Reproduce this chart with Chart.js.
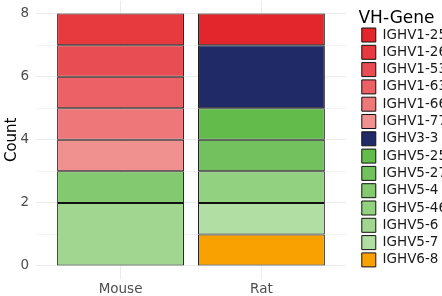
<!DOCTYPE html>
<html>
<head>
<meta charset="utf-8">
<script src="https://cdn.jsdelivr.net/npm/chart.js@4.4.1/dist/chart.umd.min.js"></script>
<style>
  html, body { margin: 0; padding: 0; background: #fff; overflow: hidden; }
  #wrap { width: 442px; height: 296px; overflow: hidden; }
</style>
</head>
<body>
<div id="wrap"><canvas id="chart" width="457" height="296"></canvas></div>
<script>
// categories on the x axis
const species = ['Mouse', 'Rat'];

// legend order (top of stack first, like ggplot)
const genes = ['IGHV1-25', 'IGHV1-26', 'IGHV1-53', 'IGHV1-63', 'IGHV1-66', 'IGHV1-77',
    'IGHV3-3', 'IGHV5-25', 'IGHV5-27', 'IGHV5-4', 'IGHV5-46', 'IGHV5-6', 'IGHV5-7', 'IGHV6-8'];
const geneColors = ['#e3262b', '#e63a3e', '#e84d53', '#eb6165', '#ee777a', '#f1918f',
    '#1f2a66', '#62bb4a', '#73c05e', '#82c96f', '#92d17f', '#a1d690', '#b1dea3', '#f8a100'];

const mouseCounts = [0, 1, 1, 1, 1, 1, 0, 0, 0, 1, 0, 2, 0, 0];
const ratCounts   = [1, 0, 0, 0, 0, 0, 2, 1, 1, 0, 1, 0, 1, 1];

const yTicks = [0, 1, 2, 3, 4, 5, 6, 7, 8];

Chart.defaults.font.family = "'DejaVu Sans', sans-serif";
Chart.defaults.font.size = 13.5;

// chart.js stacks first dataset at the bottom, so build them bottom-up
const datasets = [];
for (let i = genes.length - 1; i >= 0; i--) {
    datasets.push({
        label: genes[i],
        backgroundColor: geneColors[i],
        borderColor: '#111',
        borderWidth: 1,
        borderSkipped: false,
        inflateAmount: 0,
        grouped: false,
        barPercentage: 0.9,
        categoryPercentage: 1,
        data: [
            {x: 1, y: mouseCounts[i] || null},
            {x: 2, y: ratCounts[i] || null},
        ],
    });
}

new Chart(document.getElementById('chart').getContext('2d'), {
    type: 'bar',
    data: { datasets: datasets },
    options: {
        responsive: false,
        devicePixelRatio: 1,
        animation: false,
        layout: { padding: { top: 1, bottom: 0, left: 0, right: 0 } },
        plugins: {
            tooltip: { enabled: false },
            legend: {
                position: 'right',
                align: 'start',
                reverse: true,
                title: {
                    display: true,
                    text: 'VH-Gene',
                    position: 'start',
                    color: '#000',
                    font: { size: 17, lineHeight: 1 },
                    padding: { top: 9.5, bottom: -2.8 },
                },
                labels: {
                    boxWidth: 14,
                    boxHeight: 14,
                    padding: 3.3,
                    color: '#1a1a1a',
                    font: { size: 13.5 },
                },
            },
        },
        scales: {
            x: {
                type: 'linear',
                min: 0.4,
                max: 2.6,
                offset: false,
                stacked: true,
                afterBuildTicks: function (scale) {
                    scale.ticks = species.map((s, i) => ({ value: i + 1 }));
                },
                afterFit: function (scale) {
                    scale.height = 17.4;
                    scale.paddingLeft = 0;
                    scale.paddingRight = 0;
                },
                ticks: {
                    color: '#4d4d4d',
                    padding: 3,
                    callback: function (value) { return species[value - 1]; },
                },
                grid: { color: '#ebebeb', lineWidth: 1, drawTicks: false, offset: false },
                border: { display: false },
            },
            y: {
                type: 'linear',
                min: -0.4,
                max: 8.4,
                stacked: true,
                afterBuildTicks: function (scale) {
                    scale.ticks = yTicks.map(v => ({ value: v }));
                },
                afterFit: function (scale) {
                    scale.width = 36;
                    scale.paddingTop = 0;
                    scale.paddingBottom = 0;
                },
                ticks: {
                    color: '#4d4d4d',
                    padding: 7,
                    callback: function (value) { return value % 2 === 0 ? value : ''; },
                },
                grid: {
                    color: '#ebebeb',
                    lineWidth: function (ctx) { return ctx.tick && ctx.tick.value % 2 === 0 ? 1 : 0.6; },
                    drawTicks: false,
                },
                border: { display: false },
                title: {
                    display: true,
                    text: 'Count',
                    color: '#000',
                    font: { size: 15 },
                    padding: { top: 3, bottom: 0 },
                },
            },
            // empty strip between the panel and the legend
            gap: {
                type: 'linear',
                position: 'right',
                display: false,
                afterFit: function (scale) {
                    scale.width = 12.5;
                    scale.paddingTop = 0;
                    scale.paddingBottom = 0;
                },
            },
        },
    },
});
</script>
</body>
</html>
